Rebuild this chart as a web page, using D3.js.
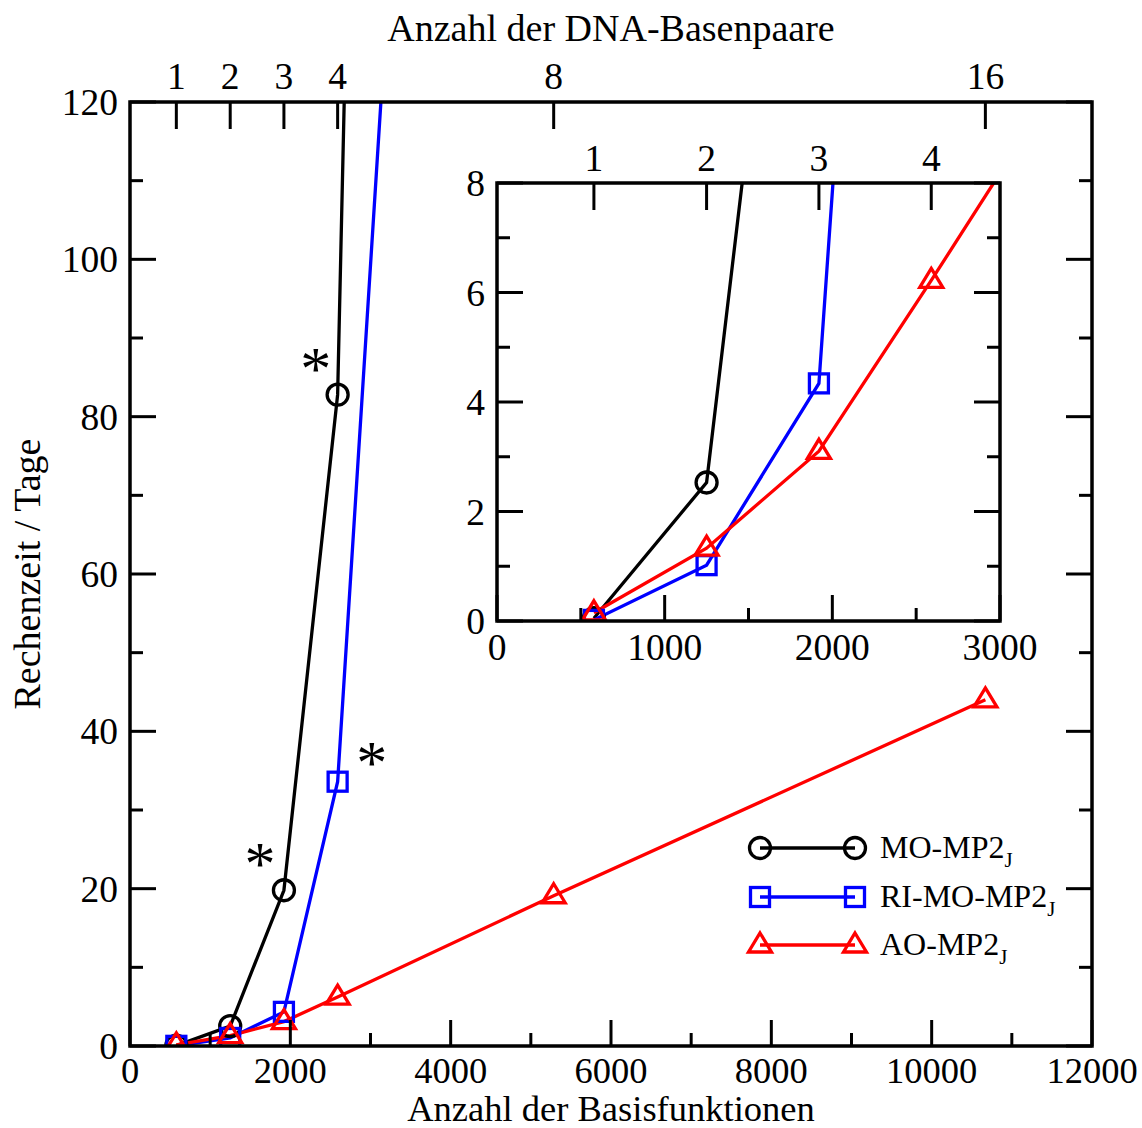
<!DOCTYPE html>
<html><head><meta charset="utf-8">
<script src="https://cdn.jsdelivr.net/npm/d3@7"></script>
<style>body{margin:0;background:#fff}svg{display:block}text{font-family:"Liberation Serif","Times New Roman",serif;fill:#000}</style>
</head><body><svg id="c" width="1142" height="1128"></svg>
<script>
// ---- data ----
const basisFunctions = [578, 1250, 1920, 2590, 5285, 10670];
const basePairs = [1, 2, 3, 4, 8, 16];
const moMP2 = [0.05, 2.53, 19.8, 82.8, 1306];
const riMoMP2 = [0.02, 1.02, 4.34, 33.6, 465];
const aoMP2 = [0.15, 1.33, 3.10, 6.22, 19.1, 44.0];
const seriesNames = ["MO-MP2", "RI-MO-MP2", "AO-MP2"];
const seriesSub = "J";
const seriesColors = ["#000000", "#0000ff", "#ff0000"];
const seriesMarkers = ["circle", "square", "triangle"];
const mainXTicks = [0, 2000, 4000, 6000, 8000, 10000, 12000];
const mainYTicks = [0, 20, 40, 60, 80, 100, 120];
const insetXTicks = [0, 1000, 2000, 3000];
const insetYTicks = [0, 2, 4, 6, 8];
const insetBasePairs = [1, 2, 3, 4];
const starred = [[1920, 19.8], [2590, 82.8], [2590, 33.6]];

const svg = d3.select("#c");
const FS = 37.5;
const LW = 3.3;

function series(i) {
  const vals = [moMP2, riMoMP2, aoMP2][i];
  return vals.map((v, k) => ({x: basisFunctions[k], y: v}));
}

function marker(g, type, color, x, y) {
  if (type === "circle") {
    g.append("circle").attr("cx", x).attr("cy", y).attr("r", 10.5)
      .attr("fill", "none").attr("stroke", color).attr("stroke-width", LW);
  } else if (type === "square") {
    g.append("rect").attr("x", x - 9.5).attr("y", y - 9.5).attr("width", 19).attr("height", 19)
      .attr("fill", "none").attr("stroke", color).attr("stroke-width", LW);
  } else {
    g.append("path").attr("d", `M${x},${y - 12}L${x + 11.5},${y + 7}L${x - 11.5},${y + 7}Z`)
      .attr("fill", "none").attr("stroke", color).attr("stroke-width", LW).attr("stroke-linejoin", "miter");
  }
}

function panel(opt) {
  const {x, y, xMinor, yMinor, xTicks, yTicks, bpShown, clipId} = opt;
  const [x0, x1] = x.range(), [y0, y1] = y.range();
  const g = svg.append("g");
  g.append("rect").attr("x", x0).attr("y", y1).attr("width", x1 - x0).attr("height", y0 - y1).attr("fill", "#fff");
  svg.append("clipPath").attr("id", clipId).append("rect")
    .attr("x", x0).attr("y", y1).attr("width", x1 - x0).attr("height", y0 - y1);
  const plot = g.append("g").attr("clip-path", `url(#${clipId})`);
  [0, 1, 2].forEach(i => {
    const d = series(i);
    plot.append("path").datum(d)
      .attr("d", d3.line().x(p => x(p.x)).y(p => y(p.y)))
      .attr("fill", "none").attr("stroke", seriesColors[i]).attr("stroke-width", LW);
  });
  [0, 1, 2].forEach(i => {
    series(i).forEach(p => {
      if (p.y <= y.domain()[1]) marker(plot, seriesMarkers[i], seriesColors[i], x(p.x), y(p.y));
    });
  });
  const tw = 3, maj = 26, min = 13;
  const ax = g.append("g").attr("stroke", "#000").attr("stroke-width", tw);
  d3.range(x.domain()[0], x.domain()[1] + 1e-9, xMinor).forEach(v => {
    const isMaj = xTicks.some(t => Math.abs(t - v) < 1e-6);
    ax.append("line").attr("x1", x(v)).attr("x2", x(v)).attr("y1", y0).attr("y2", y0 - (isMaj ? maj : min));
  });
  d3.range(y.domain()[0], y.domain()[1] + 1e-9, yMinor).forEach(v => {
    const isMaj = yTicks.some(t => Math.abs(t - v) < 1e-6);
    const L = isMaj ? maj : min;
    ax.append("line").attr("x1", x0).attr("x2", x0 + L).attr("y1", y(v)).attr("y2", y(v));
    ax.append("line").attr("x1", x1).attr("x2", x1 - L).attr("y1", y(v)).attr("y2", y(v));
  });
  bpShown.forEach(b => {
    const v = basisFunctions[basePairs.indexOf(b)];
    ax.append("line").attr("x1", x(v)).attr("x2", x(v)).attr("y1", y1).attr("y2", y1 + 27);
  });
  g.append("rect").attr("x", x0).attr("y", y1).attr("width", x1 - x0).attr("height", y0 - y1)
    .attr("fill", "none").attr("stroke", "#000").attr("stroke-width", 3.5);
  xTicks.forEach(v => g.append("text").attr("x", x(v)).attr("y", y0 + opt.xLabDy)
    .attr("text-anchor", "middle").attr("font-size", opt.xLabFs).text(v));
  yTicks.forEach(v => g.append("text").attr("x", x0 - 12).attr("y", y(v)).attr("dy", "0.35em")
    .attr("text-anchor", "end").attr("font-size", FS).text(v));
  bpShown.forEach(b => {
    const v = basisFunctions[basePairs.indexOf(b)];
    g.append("text").attr("x", x(v)).attr("y", y1 - opt.topLabDy).attr("text-anchor", "middle")
      .attr("font-size", FS).text(b);
  });
  return g;
}

// ---- main panel ----
const xMain = d3.scaleLinear().domain([0, 12000]).range([130, 1092]);
const yMain = d3.scaleLinear().domain([0, 120]).range([1046, 102]);
panel({x: xMain, y: yMain, xMinor: 1000, yMinor: 10, xTicks: mainXTicks, yTicks: mainYTicks,
  bpShown: basePairs, clipId: "clipMain", xLabDy: 37, xLabFs: 36.5, topLabDy: 13});

// stars
const starDx = [-24, -22, 34], starDy = [-6, -6, 1];
starred.forEach((s, i) => {
  svg.append("text").attr("x", xMain(s[0]) + starDx[i]).attr("y", yMain(s[1]) + starDy[i])
    .attr("text-anchor", "middle").attr("font-size", 62).text("*");
});

// axis titles
svg.append("text").attr("x", 611).attr("y", 1121).attr("text-anchor", "middle").attr("font-size", 36.5)
  .text("Anzahl der Basisfunktionen");
svg.append("text").attr("x", 611).attr("y", 41).attr("text-anchor", "middle").attr("font-size", 38)
  .text("Anzahl der DNA-Basenpaare");
svg.append("text").attr("transform", "translate(40,574) rotate(-90)").attr("text-anchor", "middle")
  .attr("font-size", 38).text("Rechenzeit / Tage");

// legend
const legY = [848, 897, 945];
seriesNames.forEach((n, i) => {
  const lg = svg.append("g");
  lg.append("line").attr("x1", 760).attr("x2", 855).attr("y1", legY[i]).attr("y2", legY[i])
    .attr("stroke", seriesColors[i]).attr("stroke-width", LW);
  marker(lg, seriesMarkers[i], seriesColors[i], 760, legY[i]);
  marker(lg, seriesMarkers[i], seriesColors[i], 855, legY[i]);
  const t = lg.append("text").attr("x", 880).attr("y", legY[i] + 10).attr("font-size", 32);
  t.append("tspan").text(n);
  t.append("tspan").attr("font-size", 21).attr("dy", 9).text(seriesSub);
});

// ---- inset panel ----
const xIn = d3.scaleLinear().domain([0, 3000]).range([497, 1000]);
const yIn = d3.scaleLinear().domain([0, 8]).range([621, 183]);
panel({x: xIn, y: yIn, xMinor: 500, yMinor: 1, xTicks: insetXTicks, yTicks: insetYTicks,
  bpShown: insetBasePairs, clipId: "clipIn", xLabDy: 39, xLabFs: FS, topLabDy: 12});
</script></body></html>
